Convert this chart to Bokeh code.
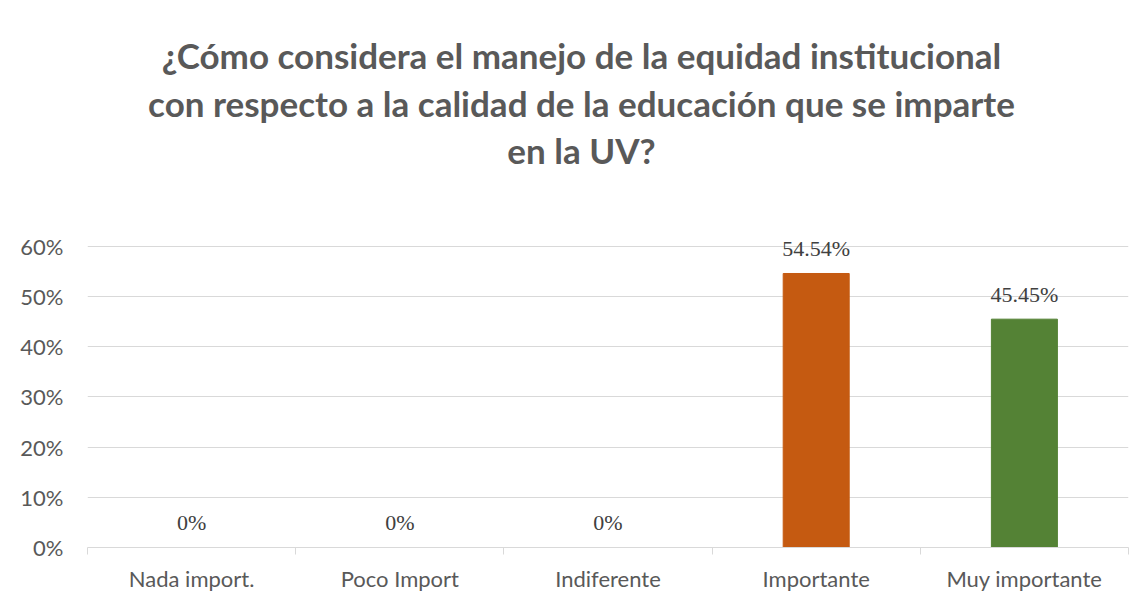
from bokeh.plotting import figure
from bokeh.models import ColumnDataSource, LabelSet, Label, FixedTicker, Range1d
from bokeh.embed import file_html
from bokeh.resources import INLINE

categories = ["Nada import.", "Poco Import", "Indiferente", "Importante", "Muy importante"]
values = [0, 0, 0, 54.54, 45.45]
value_labels = ["0%", "0%", "0%", "54.54%", "45.45%"]
colors = ["#4472C4", "#4472C4", "#4472C4", "#C55A11", "#548235"]
y_ticks = [0, 10, 20, 30, 40, 50, 60]
title_lines = [
    "¿Cómo considera el manejo de la equidad institucional",
    "con respecto a la calidad de la educación que se imparte",
    "en la UV?",
]

FONT = "Lato"
GREY = "#595959"
LIGHT = "#D9D9D9"

# frame geometry (pixels)
W, H = 1135, 594
FRAME_TOP, FRAME_BOTTOM = 10, 548
Y0_PIX, Y60_PIX = 548, 246
px_per_unit = (Y0_PIX - Y60_PIX) / 60.0
y_end = (FRAME_BOTTOM - FRAME_TOP) / px_per_unit

xs = [i + 0.5 for i in range(len(categories))]
src = ColumnDataSource(dict(x=xs, top=values, label=value_labels, color=colors))

p = figure(width=W, height=H, output_backend="svg", toolbar_location=None,
           x_range=Range1d(0, len(categories)), y_range=Range1d(0, y_end),
           min_border_left=87, min_border_right=7, min_border_top=FRAME_TOP,
           min_border_bottom=H - FRAME_BOTTOM)
p.outline_line_color = None
p.background_fill_color = "white"
p.border_fill_color = "white"

p.vbar(x="x", top="top", width=0.317, color="color", source=src)

labels = LabelSet(x="x", y="top", text="label", source=src, y_offset=25,
                  text_align="center", text_baseline="middle",
                  text_font=FONT, text_font_size="22px", text_color="#404040")
p.add_layout(labels)

# x axis
p.xaxis.ticker = FixedTicker(ticks=xs, minor_ticks=list(range(len(categories) + 1)))
p.xaxis.major_label_overrides = {x: c for x, c in zip(xs, categories)}
p.xaxis.major_tick_line_color = None
p.xaxis.major_tick_out = 0
p.xaxis.minor_tick_line_color = LIGHT
p.xaxis.minor_tick_out = 7
p.xaxis.minor_tick_in = 0
p.xaxis.axis_line_color = LIGHT
p.xaxis.axis_line_width = 1
p.xaxis.major_label_text_font = FONT
p.xaxis.major_label_text_font_size = "22px"
p.xaxis.major_label_text_color = GREY
p.xaxis.major_label_standoff = 10
p.xgrid.grid_line_color = None

# y axis
p.yaxis.ticker = FixedTicker(ticks=y_ticks)
p.yaxis.major_label_overrides = {t: f"{t}%" for t in y_ticks}
p.yaxis.axis_line_color = None
p.yaxis.major_tick_line_color = None
p.yaxis.minor_tick_line_color = None
p.yaxis.major_label_text_font = FONT
p.yaxis.major_label_text_font_size = "22px"
p.yaxis.major_label_text_color = GREY
p.yaxis.major_label_standoff = 18
p.ygrid.grid_line_color = LIGHT
p.ygrid.grid_line_width = 1

# title lines (positioned in pixels, converted to data units)
title_centers_pix = [55, 103, 150]
title_x = (581 - 87) / ((1128 - 87) / len(categories))
for t, ty in zip(title_lines, title_centers_pix):
    p.add_layout(Label(x=title_x, y=(Y0_PIX - ty) / px_per_unit, text=t,
                       text_align="center", text_baseline="middle",
                       text_font=FONT, text_font_style="bold", text_font_size="35px",
                       text_color=GREY))

open("out.html", "w").write(file_html(p, INLINE))
